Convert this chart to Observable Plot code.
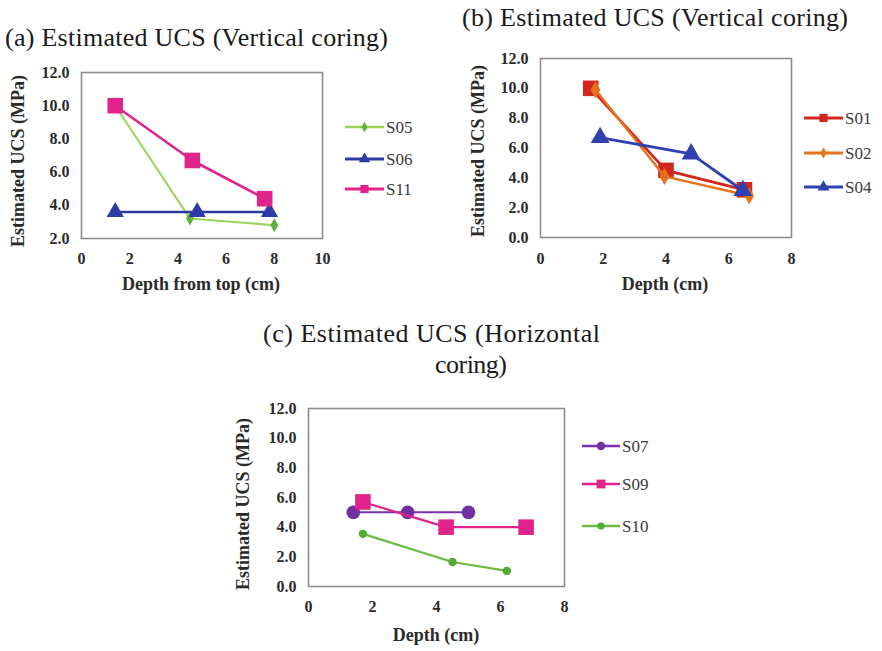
<!DOCTYPE html>
<html>
<head>
<meta charset="utf-8">
<script src="https://cdn.jsdelivr.net/npm/d3@7"></script>
<script src="https://cdn.jsdelivr.net/npm/@observablehq/plot@0.6"></script>
<style>
  html, body { margin: 0; padding: 0; background: #fff; }
  #root { position: relative; width: 882px; height: 651px; overflow: hidden; background: #fff; font-family: 'Liberation Serif', 'Times New Roman', serif; }
  #root > svg { position: absolute; }
  #root svg text { font-family: 'Liberation Serif', 'Times New Roman', serif !important; }
</style>
</head>
<body>
<div id="root"></div>
<script>
// ---------- DATA ----------
// Panel (a): Estimated UCS (Vertical coring)
const a_series = ["S05", "S06", "S11"];
const a_S05_depth = [1.4, 4.5, 8.0];
const a_S05_ucs   = [10.0, 3.2, 2.8];
const a_S06_depth = [1.4, 4.8, 7.8];
const a_S06_ucs   = [3.6, 3.6, 3.6];
const a_S11_depth = [1.4, 4.6, 7.6];
const a_S11_ucs   = [10.0, 6.7, 4.4];
const a_xTicks = [0, 2, 4, 6, 8, 10];
const a_yTicks = [2, 4, 6, 8, 10, 12];

// Panel (b): Estimated UCS (Vertical coring)
const b_series = ["S01", "S02", "S04"];
const b_S01_depth = [1.6, 4.0, 6.5];
const b_S01_ucs   = [10.0, 4.5, 3.2];
const b_S02_depth = [1.75, 3.95, 6.65];
const b_S02_ucs   = [9.9, 4.1, 2.8];
const b_S04_depth = [1.9, 4.8, 6.45];
const b_S04_ucs   = [6.7, 5.6, 3.15];
const b_xTicks = [0, 2, 4, 6, 8];
const b_yTicks = [0, 2, 4, 6, 8, 10, 12];

// Panel (c): Estimated UCS (Horizontal coring)
const c_series = ["S07", "S09", "S10"];
const c_S07_depth = [1.4, 3.1, 5.0];
const c_S07_ucs   = [5.0, 5.0, 5.0];
const c_S09_depth = [1.7, 4.3, 6.8];
const c_S09_ucs   = [5.7, 4.0, 4.0];
const c_S10_depth = [1.7, 4.5, 6.2];
const c_S10_ucs   = [3.55, 1.65, 1.05];
const c_xTicks = [0, 2, 4, 6, 8];
const c_yTicks = [0, 2, 4, 6, 8, 10, 12];

// ---------- STYLES ----------
const styles = {
  S05: {line: "#9ad45c", mark: "#5cb43c", symbol: "diamond", r: 4.2, lw: 2, lr: 3.2},
  S06: {line: "#2e3aa6", mark: "#2e3aa6", symbol: "triangle", r: 6.4, lw: 2.6, lr: 4.2},
  S11: {line: "#e0248c", mark: "#e0248c", symbol: "square", r: 8.8, lw: 2.6, lr: 4.6},
  S01: {line: "#d2261e", mark: "#d2261e", symbol: "square", r: 8.8, lw: 2.8, lr: 4.6},
  S02: {line: "#e5731e", mark: "#e5731e", symbol: "diamond", r: 5.2, lw: 2.4, lr: 3.4},
  S04: {line: "#3040b0", mark: "#3040b0", symbol: "triangle", r: 7, lw: 2.8, lr: 4.4},
  S07: {line: "#7a32b4", mark: "#7030a0", symbol: "circle", r: 6.8, lw: 2, lr: 4.2},
  S09: {line: "#e0248c", mark: "#e0248c", symbol: "square", r: 8.8, lw: 2.2, lr: 5},
  S10: {line: "#6cba44", mark: "#52ac32", symbol: "circle", r: 4.2, lw: 2.2, lr: 3.6}
};

const root = document.getElementById("root");
const FONT = "'Liberation Serif', 'Times New Roman', serif";

function panel(cfg) {
  const marks = [Plot.frame({stroke: "#8c8c8c", strokeWidth: 1.6})];
  for (const s of cfg.series) {
    const st = styles[s.name];
    const rows = s.depth.map((d, i) => ({depth: d, ucs: s.ucs[i], name: s.name}));
    marks.push(Plot.line(rows, {x: "depth", y: "ucs", stroke: st.line, strokeWidth: st.lw}));
    marks.push(Plot.dot(rows, {x: "depth", y: "ucs", symbol: st.symbol, r: st.r, fill: st.mark, stroke: "none"}));
  }
  const svg = Plot.plot({
    width: cfg.width, height: cfg.height,
    marginLeft: cfg.ml, marginRight: cfg.mr, marginTop: cfg.mt, marginBottom: cfg.mb,
    x: {domain: cfg.xDomain, ticks: cfg.xTicks, tickSize: 0, tickPadding: cfg.xPad, label: null, tickFormat: d => String(d)},
    y: {domain: cfg.yDomain, ticks: cfg.yTicks, tickSize: 0, tickPadding: 12, label: null, tickFormat: d => d.toFixed(1)},
    style: {fontFamily: FONT, fontSize: "16px", fontWeight: "bold", color: "#2a2a2a", background: "transparent", overflow: "visible"},
    marks
  });
  svg.style.left = cfg.left + "px";
  svg.style.top = cfg.top + "px";
  svg.querySelectorAll("text").forEach(t => { t.style.fontFamily = FONT; });
  root.appendChild(svg);
}

panel({
  left: 0, top: 55, width: 340, height: 245, ml: 81, mr: 18, mt: 17, mb: 62, xPad: 14,
  xDomain: [0, 10], yDomain: [2, 12], xTicks: a_xTicks, yTicks: a_yTicks,
  series: [
    {name: "S05", depth: a_S05_depth, ucs: a_S05_ucs},
    {name: "S06", depth: a_S06_depth, ucs: a_S06_ucs},
    {name: "S11", depth: a_S11_depth, ucs: a_S11_ucs}
  ]
});
panel({
  left: 440, top: 40, width: 380, height: 260, ml: 100, mr: 29, mt: 18, mb: 63, xPad: 15,
  xDomain: [0, 8], yDomain: [0, 12], xTicks: b_xTicks, yTicks: b_yTicks,
  series: [
    {name: "S01", depth: b_S01_depth, ucs: b_S01_ucs},
    {name: "S02", depth: b_S02_depth, ucs: b_S02_ucs},
    {name: "S04", depth: b_S04_depth, ucs: b_S04_ucs}
  ]
});
panel({
  left: 200, top: 390, width: 390, height: 261, ml: 108, mr: 26, mt: 18, mb: 65, xPad: 14,
  xDomain: [0, 8], yDomain: [0, 12], xTicks: c_xTicks, yTicks: c_yTicks,
  series: [
    {name: "S07", depth: c_S07_depth, ucs: c_S07_ucs},
    {name: "S09", depth: c_S09_depth, ucs: c_S09_ucs},
    {name: "S10", depth: c_S10_depth, ucs: c_S10_ucs}
  ]
});

// ---------- OVERLAY: titles, axis labels, legends ----------
const ov = d3.select(root).append("svg")
  .attr("width", 882).attr("height", 651)
  .style("left", "0px").style("top", "0px")
  .style("font-family", FONT);

function title(txt, x, y, len) {
  ov.append("text").attr("x", x).attr("y", y).attr("font-size", 26).attr("fill", "#1a1a1a")
    .attr("textLength", len).attr("lengthAdjust", "spacing").text(txt);
}
title("(a) Estimated UCS (Vertical coring)", 5, 46, 383);
title("(b) Estimated UCS (Vertical coring)", 462, 26, 386);
title("(c)  Estimated UCS (Horizontal", 263, 342, 337);
title("coring)", 435, 373, 72);

function xlabel(txt, cx, cy) {
  ov.append("text").attr("x", cx).attr("y", cy).attr("text-anchor", "middle").attr("dy", "0.35em")
    .attr("font-size", 18).attr("font-weight", "bold").attr("fill", "#2a2a2a").text(txt);
}
function ylabel(txt, cx, cy) {
  ov.append("text").attr("transform", `translate(${cx},${cy}) rotate(-90)`).attr("text-anchor", "middle")
    .attr("dy", "0.35em").attr("font-size", 18).attr("font-weight", "bold").attr("fill", "#2a2a2a").text(txt);
}
xlabel("Depth from top (cm)", 201, 284);
xlabel("Depth (cm)", 665, 284);
xlabel("Depth (cm)", 436, 635);
ylabel("Estimated UCS (MPa)", 18, 161);
ylabel("Estimated UCS (MPa)", 478, 151);
ylabel("Estimated UCS (MPa)", 243, 504);

const symMap = {circle: d3.symbolCircle, square: d3.symbolSquare, triangle: d3.symbolTriangle, diamond: d3.symbolDiamond};
function legend(names, x0, x1, ys) {
  names.forEach((n, i) => {
    const st = styles[n];
    const y = ys[i];
    ov.append("line").attr("x1", x0).attr("x2", x1).attr("y1", y).attr("y2", y)
      .attr("stroke", st.line).attr("stroke-width", st.lw + 0.4);
    ov.append("path").attr("transform", `translate(${(x0 + x1) / 2},${y})`)
      .attr("d", d3.symbol().type(symMap[st.symbol]).size(Math.PI * st.lr * st.lr)())
      .attr("fill", st.mark);
    ov.append("text").attr("x", x1 + 2).attr("y", y).attr("dy", "0.35em")
      .attr("font-size", 17).attr("fill", "#3a3a3a").text(n);
  });
}
legend(a_series, 345, 384, [127, 159, 189]);
legend(b_series, 804, 843, [118, 153, 187]);
legend(c_series, 582, 620, [446, 484, 526]);
</script>
</body>
</html>
